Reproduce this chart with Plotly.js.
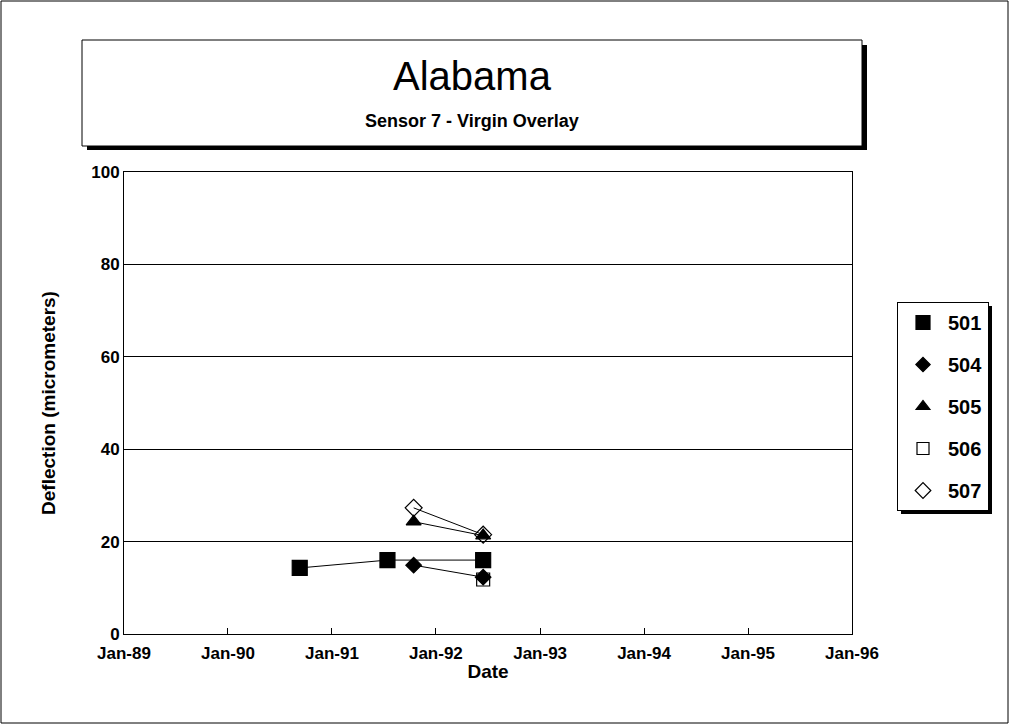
<!DOCTYPE html>
<html><head><meta charset="utf-8">
<script src="https://cdn.plot.ly/plotly-3.0.1.min.js"></script>
<style>html,body{margin:0;padding:0;background:#fff}#chart{width:1010px;height:725px}</style>
</head><body><div id="chart"></div>
<script>
const series = ["501","504","505","506","507"];
const dates501 = ["1990-09-10","1991-07-15","1992-06-15"];
const vals501 = [14.3, 16.0, 16.0];
const dates504 = ["1991-10-15","1992-06-15"];
const vals504 = [14.9, 12.3];
const dates505 = ["1991-10-15","1992-06-15"];
const vals505 = [24.3, 21.3];
const dates506 = ["1992-06-15"];
const vals506 = [11.8];
const dates507 = ["1991-10-15","1992-06-15"];
const vals507 = [27.3, 21.5];
const tickDates = ["1989-01-01","1990-01-01","1991-01-01","1992-01-01","1993-01-01","1994-01-01","1995-01-01","1996-01-01"];
const tickLabels = ["Jan-89","Jan-90","Jan-91","Jan-92","Jan-93","Jan-94","Jan-95","Jan-96"];

const F = "Arial, 'Liberation Sans', sans-serif";
const symbols = ['square','diamond','triangle-up','square-open','diamond-open'];
const sizes = [15, 12, 13, 13, 13];
const xs = [dates501, dates504, dates505, dates506, dates507];
const ys = [vals501, vals504, vals505, vals506, vals507];
const data = [];
for (let i = 0; i < series.length; i++) {
  data.push({type:'scatter', mode:'lines+markers', name:series[i], x:xs[i], y:ys[i],
    showlegend:false,
    line:{color:'#000', width:1},
    marker:{symbol:symbols[i], size:sizes[i], color:'#000', line:{color:'#000', width:1.2}}});
}
for (let i = 0; i < series.length; i++) {
  data.push({type:'scatter', mode:'markers', name:series[i], x:[null], y:[null],
    legendgroup:'g'+i, showlegend:true,
    marker:{symbol:symbols[i], size:sizes[i]-1, color:'#000', line:{color:'#000', width:1.2}}});
}
const W = 728, H = 462, L = 124, T = 172;
function px(x){return (x-L)/W;}
function py(y){return (T+H-y)/H;}
const layout = {
  width:1010, height:725,
  margin:{l:124, r:158, t:172, b:91},
  paper_bgcolor:'#fff', plot_bgcolor:'#fff',
  font:{family:F, color:'#000'},
  showlegend:true,
  legend:{x:px(897), y:py(302), xanchor:'left', yanchor:'top',
    bordercolor:'#000', borderwidth:1, bgcolor:'#fff',
    font:{family:F, size:20, color:'#000', weight:'bold'}, tracegroupgap:13, itemwidth:40},
  xaxis:{type:'date', range:['1989-01-01','1996-01-01'],
    tickvals:tickDates, ticktext:tickLabels,
    ticks:'inside', ticklen:6, tickcolor:'#000', ticklabelstandoff:4,
    showgrid:false, zeroline:false, showline:true, linecolor:'#000', linewidth:1, mirror:true,
    tickfont:{family:F, size:17, color:'#000', weight:'bold'},
    title:{text:'<b>Date</b>', font:{family:F, size:19, color:'#000'}, standoff:2}},
  yaxis:{range:[0,100], tickvals:[0,20,40,60,80,100], ticks:'',
    showgrid:true, gridcolor:'#000', gridwidth:1, zeroline:false,
    showline:true, linecolor:'#000', linewidth:1, mirror:true,
    tickfont:{family:F, size:17, color:'#000', weight:'bold'},
    title:{text:'<b>Deflection (micrometers)</b>', font:{family:F, size:19, color:'#000'}, standoff:30}},
  shapes:[
    {type:'rect', xref:'paper', yref:'paper', x0:px(1), x1:px(1008), y0:py(723), y1:py(1), line:{color:'#000', width:1}, layer:'below'},
    {type:'rect', xref:'paper', yref:'paper', x0:px(87), x1:px(867), y0:py(150), y1:py(45), line:{width:0}, fillcolor:'#000', layer:'below'},
    {type:'rect', xref:'paper', yref:'paper', x0:px(82), x1:px(862), y0:py(146), y1:py(40), line:{color:'#000', width:1}, fillcolor:'#fff', layer:'below'},
    {type:'rect', xref:'paper', yref:'paper', x0:px(901), x1:px(992), y0:py(514), y1:py(306), line:{width:0}, fillcolor:'#000', layer:'below'}
  ],
  annotations:[
    {xref:'paper', yref:'paper', x:px(472), y:py(76), text:'Alabama', showarrow:false, font:{family:F, size:40, color:'#000'}, xanchor:'center', yanchor:'middle'},
    {xref:'paper', yref:'paper', x:px(472), y:py(121), text:'<b>Sensor 7 - Virgin Overlay</b>', showarrow:false, font:{family:F, size:18, color:'#000'}, xanchor:'center', yanchor:'middle'}
  ]
};
Plotly.newPlot('chart', data, layout, {displayModeBar:false, staticPlot:true});
</script></body></html>
